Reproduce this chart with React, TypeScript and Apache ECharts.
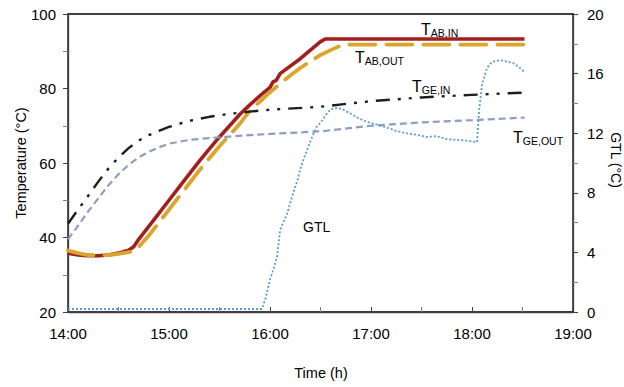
import React, { useEffect, useRef } from "react";
import * as echarts from "echarts";

// Time in decimal hours
const abInTime = [14.0, 14.1, 14.2, 14.3, 14.4, 14.5, 14.6, 14.65, 14.7, 14.8, 14.9, 15.0, 15.1, 15.2, 15.3, 15.4, 15.5, 15.6, 15.7, 15.8, 15.9, 16.0, 16.03, 16.06, 16.1, 16.2, 16.3, 16.4, 16.5, 16.55, 17.0, 17.5, 18.0, 18.52];
const abInVal = [35.8, 35.3, 35.1, 35.1, 35.3, 35.8, 36.6, 37.5, 39.5, 43, 46.5, 50, 53.5, 57, 60.5, 63.8, 67, 70, 73, 75.6, 78, 80.3, 81.8, 82.1, 84, 86, 88, 90.3, 92.6, 93.3, 93.3, 93.3, 93.3, 93.3];

const abOutTime = [14.0, 14.1, 14.2, 14.3, 14.4, 14.5, 14.63, 14.7, 14.8, 14.9, 15.0, 15.1, 15.2, 15.3, 15.4, 15.5, 15.6, 15.7, 15.8, 15.9, 16.0, 16.1, 16.2, 16.3, 16.4, 16.5, 16.6, 16.7, 16.75, 17.0, 17.5, 18.0, 18.52];
const abOutVal = [36.5, 35.8, 35.3, 35.2, 35.3, 35.6, 36.2, 37.5, 40.5, 44, 47.5, 51, 54.5, 58, 61.3, 64.5, 67.5, 70.5, 74, 76.5, 79, 81.3, 83.5, 85.5, 87.3, 89, 90.3, 91.5, 91.8, 91.8, 91.8, 91.8, 91.8];

const geTime = [14.0, 14.1, 14.2, 14.3, 14.4, 14.5, 14.6, 14.7, 14.8, 14.9, 15.0, 15.2, 15.4, 15.6, 15.8, 16.0, 16.5, 17.0, 17.5, 18.0, 18.52];
const geInVal = [43.7, 47.5, 51.2, 55, 58.5, 61.5, 64, 66, 67.5, 68.6, 69.7, 71.3, 72.4, 73.2, 73.8, 74.3, 75.1, 76.6, 77.6, 78.3, 78.9];
const geOutVal = [39.5, 43.2, 47, 50.5, 54, 57, 59.5, 61.5, 63, 64.2, 65.2, 66.2, 66.7, 67.1, 67.5, 67.8, 68.5, 70.0, 70.9, 71.5, 72.2];

const gtlTime = [14.0, 15.92, 15.96, 16.0, 16.04, 16.07, 16.1, 16.13, 16.17, 16.2, 16.23, 16.27, 16.3, 16.34, 16.38, 16.42, 16.46, 16.5, 16.55, 16.6, 16.66, 16.72, 16.8, 16.88, 16.96, 17.05, 17.15, 17.25, 17.35, 17.45, 17.55, 17.65, 17.75, 17.85, 17.95, 18.05, 18.07, 18.1, 18.15, 18.2, 18.28, 18.35, 18.41, 18.47, 18.52];
const gtlVal = [0.2, 0.2, 1.0, 2.2, 3.0, 3.7, 5.5, 6.0, 6.6, 7.3, 8.0, 8.8, 9.6, 10.4, 11.1, 11.8, 12.4, 12.7, 13.2, 13.6, 13.7, 13.6, 13.3, 13.0, 12.75, 12.6, 12.4, 12.15, 12.0, 11.9, 11.75, 11.8, 11.6, 11.55, 11.5, 11.4, 13.5, 15.3, 16.4, 16.8, 16.9, 16.8, 16.7, 16.4, 16.1];

const FONT = "'Liberation Sans', Arial, sans-serif";

function pairs(t: number[], v: number[]) {
  return t.map((x, i) => [x, v[i]]);
}

function label(x: number, y: number, sub: string, subDy: number) {
  return [
    { type: "text", x, y, style: { text: "T", font: `16px ${FONT}`, fill: "#000", textAlign: "left", textVerticalAlign: "middle" } },
    { type: "text", x: x + 9.8, y: y + subDy, style: { text: sub, font: `10.5px ${FONT}`, fill: "#000", textAlign: "left", textVerticalAlign: "middle" } },
  ];
}

export default function App() {
  const ref = useRef<HTMLDivElement>(null);
  useEffect(() => {
    if (!ref.current) return;
    const chart = echarts.init(ref.current, undefined, { renderer: "svg" });
    const axisLine = { show: true, lineStyle: { color: "#404040", width: 1.3 } };
    chart.setOption({
      animation: false,
      backgroundColor: "#fff",
      grid: { left: 68, right: 51, top: 14, bottom: 75, show: true, borderColor: "#000", borderWidth: 1.3 },
      xAxis: {
        type: "value", min: 14, max: 19, interval: 1,
        axisLine,
        axisTick: { show: true, inside: true, length: 5, lineStyle: { color: "#404040" } },
        minorTick: { show: true, splitNumber: 2, length: 5, lineStyle: { color: "#808080" } },
        splitLine: { show: false },
        axisLabel: { formatter: (v: number) => `${v}:00`, color: "#000", fontSize: 15, fontFamily: FONT, margin: 14 },
      },
      yAxis: [
        {
          type: "value", min: 20, max: 100, interval: 20,
          axisLine,
          axisTick: { show: true, length: 5, lineStyle: { color: "#404040" } },
          minorTick: { show: true, splitNumber: 2, length: 5, lineStyle: { color: "#808080" } },
          splitLine: { show: false },
          axisLabel: { color: "#000", fontSize: 15, fontFamily: FONT, margin: 12 },
        },
        {
          type: "value", min: 0, max: 20, interval: 4, position: "right",
          axisLine,
          axisTick: { show: true, length: 5, lineStyle: { color: "#404040" } },
          minorTick: { show: true, splitNumber: 2, length: 5, lineStyle: { color: "#808080" } },
          splitLine: { show: false },
          axisLabel: { color: "#000", fontSize: 15, fontFamily: FONT, margin: 14 },
        },
      ],
      series: [
        { name: "TAB,IN", type: "line", data: pairs(abInTime, abInVal), showSymbol: false, lineStyle: { color: "#A21F1E", width: 3.6 }, z: 2 },
        { name: "TAB,OUT", type: "line", data: pairs(abOutTime, abOutVal), showSymbol: false, lineStyle: { color: "#DAA52B", width: 3.8, type: [26, 11], cap: "round" }, z: 3 },
        { name: "TGE,OUT", type: "line", data: pairs(geTime, geOutVal), showSymbol: false, lineStyle: { color: "#8C9FBE", width: 2.2, type: [7, 4] }, z: 4 },
        { name: "TGE,IN", type: "line", data: pairs(geTime, geInVal), showSymbol: false, lineStyle: { color: "#1E1E1E", width: 2.4, type: [14, 8, 3, 8, 3, 8] }, z: 5 },
        { name: "GTL", type: "line", yAxisIndex: 1, data: pairs(gtlTime, gtlVal), showSymbol: false, lineStyle: { color: "#5B9BD5", width: 1.8, type: [2, 2] }, z: 6 },
      ],
      graphic: [
        ...label(421, 29, "AB,IN", 3.5),
        ...label(355, 57.5, "AB,OUT", 3.5),
        ...label(412, 86, "GE,IN", 3.5),
        ...label(513, 137.5, "GE,OUT", 3.5),
        { type: "text", x: 303, y: 227, style: { text: "GTL", font: `14px ${FONT}`, fill: "#000", textAlign: "left", textVerticalAlign: "middle" } },
        { type: "text", x: 21, y: 163, rotation: Math.PI / 2, style: { text: "Temperature (°C)", font: `14.5px ${FONT}`, fill: "#000", textAlign: "center", textVerticalAlign: "middle" } },
        { type: "text", x: 616, y: 160, rotation: -Math.PI / 2, style: { text: "GTL (°C)", font: `14px ${FONT}`, fill: "#000", textAlign: "center", textVerticalAlign: "middle" } },
        { type: "text", x: 321, y: 373, style: { text: "Time (h)", font: `14.5px ${FONT}`, fill: "#000", textAlign: "center", textVerticalAlign: "middle" } },
      ],
    });
    return () => chart.dispose();
  }, []);
  return <div ref={ref} style={{ position: "fixed", left: 0, top: 0, width: 624, height: 387, background: "#fff" }} />;
}
